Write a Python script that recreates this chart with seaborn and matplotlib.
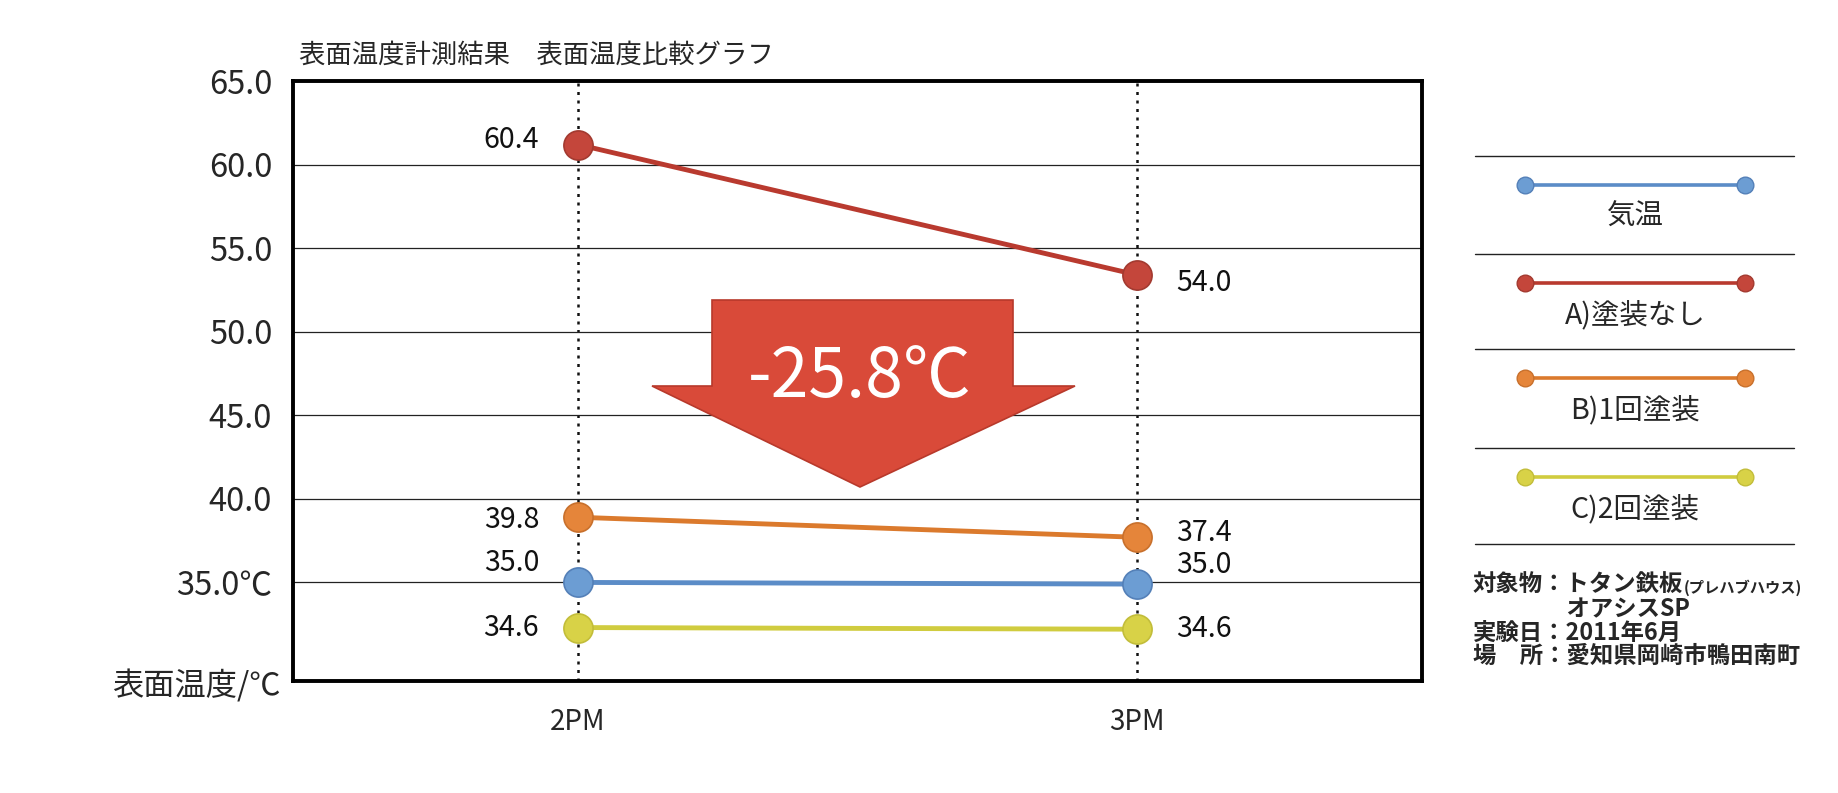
import matplotlib
matplotlib.use("Agg")
import matplotlib.pyplot as plt
from matplotlib.patches import Polygon
import seaborn as sns

sns.set_style("white")
plt.rcParams['font.family'] = ['Noto Sans CJK JP', 'DejaVu Sans']

# --- data -------------------------------------------------------------
times = ["2PM", "3PM"]
series = ["気温", "A)塗装なし", "B)1回塗装", "C)2回塗装"]

# values printed next to the markers
air = [35.0, 35.0]
no_coat = [60.4, 54.0]
one_coat = [39.8, 37.4]
two_coat = [34.6, 34.6]

# where the original chart actually puts the markers (it is not to scale)
air_pos = [35.0, 34.9]
no_coat_pos = [61.2, 53.4]
one_coat_pos = [38.9, 37.7]
two_coat_pos = [32.3, 32.2]

yticks = [35, 40, 45, 50, 55, 60, 65]
ytick_labels = ["35.0℃", "40.0", "45.0", "50.0", "55.0", "60.0", "65.0"]

title = "表面温度計測結果　表面温度比較グラフ"
notes = ["対象物：トタン鉄板", "　　　　オアシスSP", "実験日：2011年6月", "場　所：愛知県岡崎市鴨田南町"]

# --- style ------------------------------------------------------------
marker_colors = ["#6C9DD3", "#C4463B", "#E5853A", "#D8D247"]
line_colors = ["#5B8CC7", "#B93A2F", "#DB7A2D", "#D0CC3F"]
edge_colors = ["#5480B8", "#A33A30", "#C8702C", "#C2BD3A"]
# label nudges in points (dy at 2PM, dy at 3PM)
label_dy = [(14, 14), (3, -6), (-2, 3), (0, 0)]

values = [air, no_coat, one_coat, two_coat]
positions = [air_pos, no_coat_pos, one_coat_pos, two_coat_pos]

fig = plt.figure(figsize=(18.38, 7.93), dpi=100)
ax = fig.add_axes([0.1594, 0.1412, 0.6143, 0.7566])
# overlay in pixel units for the side panel / annotations
ov = fig.add_axes([0, 0, 1, 1])
ov.set_xlim(0, 1838)
ov.set_ylim(793, 0)
ov.axis("off")

x = list(range(len(times)))
for name, val, pos, mc, lc, ec, (dy0, dy1) in zip(series, values, positions, marker_colors,
                                                  line_colors, edge_colors, label_dy):
    sns.lineplot(x=x, y=pos, color=lc, linewidth=3.5, marker="o", markersize=21,
                 markerfacecolor=mc, markeredgecolor=ec, markeredgewidth=1.2, ax=ax)
    for j, dy in zip(x, (dy0, dy1)):
        ax.annotate(f"{val[j]:.1f}", (j, pos[j]), xytext=(-28 if j == 0 else 28, dy),
                    textcoords="offset points", ha="right" if j == 0 else "left",
                    va="center", fontsize=20.5, color="#111")

ax.set_xlim(-0.51, 1.51)
ax.set_ylim(29.1, 65)
ax.set_xticks(x, times)
ax.set_yticks(yticks, ytick_labels)
ax.set_xlabel("")
ax.set_ylabel("")
ax.tick_params(axis="x", length=0, pad=19, labelsize=20)
ax.tick_params(axis="y", length=0, pad=15, labelsize=23.5)
ax.grid(axis="y", color="#222", linewidth=0.9)
ax.grid(axis="x", color="#111", linewidth=1.8, linestyle=(0, (1.2, 2.2)))
for s in ax.spines.values():
    s.set_linewidth(2.8)
    s.set_color("black")
ax.text(-0.0106, -0.008, "表面温度/℃", transform=ax.transAxes, ha="right", va="center",
        fontsize=22.5)

# big arrow with the drop between the uncoated and twice-coated panels
arrow = [(712, 300), (1013, 300), (1013, 386), (1075, 386), (860, 487), (652, 386), (712, 386)]
ax.add_patch(Polygon(arrow, closed=True, transform=ov.transData, facecolor="#D94A39",
                     edgecolor="#B8392B", linewidth=1.2, zorder=1))
delta = no_coat[0] - two_coat[0]
ov.text(860, 378, f"-{delta:.1f}℃", ha="center", va="center", fontsize=49, color="white")

ov.text(299, 55, title, ha="left", va="center", fontsize=19)

# side legend
seps = [156, 254, 349, 448, 544]
for s in seps:
    ov.plot([1475, 1794], [s, s], color="#222", linewidth=1)
for i, name in enumerate(series):
    y = seps[i] + 29
    ov.plot([1525, 1745], [y, y], color=line_colors[i], linewidth=2.6, marker="o",
            markersize=12, markerfacecolor=marker_colors[i], markeredgecolor=edge_colors[i])
    ov.text(1635, seps[i] + 61, name, ha="center", va="center", fontsize=20.5)

# notes
note_y = [585, 609, 633, 656]
t0 = None
for txt, y in zip(notes, note_y):
    t = ov.text(1473, y, txt, ha="left", va="center", fontsize=16.8, fontweight="bold")
    if t0 is None:
        t0 = t
ov.annotate("(プレハブハウス)", xy=(1, 0.4), xycoords=t0, ha="left", va="center",
            fontsize=11, fontweight="bold")

fig.savefig("out.png", dpi=100)
